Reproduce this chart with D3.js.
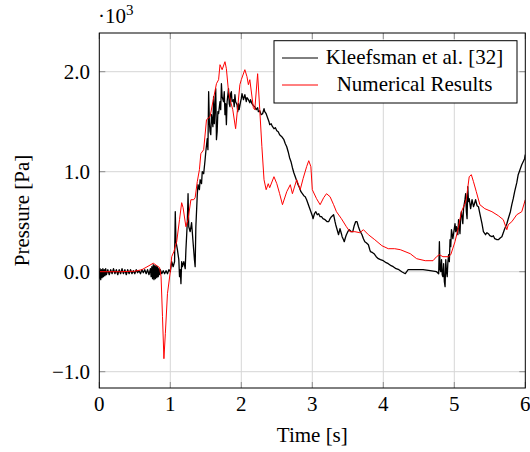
<!DOCTYPE html>
<html>
<head>
<meta charset="utf-8">
<script src="https://cdn.jsdelivr.net/npm/d3@7"></script>
<style>
  html, body { margin: 0; padding: 0; background: #fff; }
  svg { display: block; font-family: "Liberation Serif", "Times New Roman", serif; }
</style>
</head>
<body>
<svg id="chart" width="530" height="452"></svg>
<script>
// Pressure signal, values in units of 10^3 Pa, time in seconds
const xTicks = [0, 1, 2, 3, 4, 5, 6];
const yTicks = [-1, 0, 1, 2];
const seriesNames = ["Kleefsman et al. [32]", "Numerical Results"];
const seriesColors = ["#000000", "#ff0000"];

// Experimental record (Kleefsman et al.)
const kleefsman = [
  [0,-0.07],[0.01,0.03],[0.02,-0.08],[0.03,0.02],[0.04,-0.06],[0.05,0.03],[0.06,-0.05],[0.07,0.02],[0.08,-0.04],[0.09,0.03],
  [0.10,-0.03],[0.12,0.02],[0.14,-0.03],[0.16,0.02],[0.18,-0.02],[0.20,0.03],[0.22,-0.02],[0.24,0.02],[0.26,-0.03],[0.28,0.02],
  [0.30,-0.02],[0.32,0.03],[0.34,-0.02],[0.36,0.02],[0.38,-0.03],[0.40,0.02],[0.42,-0.02],[0.44,0.02],[0.46,-0.02],[0.48,0.01],
  [0.50,-0.02],[0.52,0.02],[0.54,-0.01],[0.56,0.01],[0.58,-0.02],[0.60,0.02],[0.62,-0.01],[0.64,0.02],[0.66,-0.02],[0.68,0.02],
  [0.70,-0.03],[0.72,0.03],[0.73,-0.05],[0.74,0.05],[0.75,-0.07],[0.76,0.07],[0.77,-0.08],[0.78,0.06],[0.79,-0.07],[0.80,0.06],
  [0.81,-0.06],[0.82,0.05],[0.83,-0.05],[0.84,0.03],[0.85,-0.03],[0.86,0.02],[0.88,-0.02],[0.90,0.01],[0.92,-0.02],[0.94,0.01],
  [0.96,-0.02],[0.98,0.02],[1.00,0.0],[1.02,0.1],[1.04,0.05],[1.06,0.1],[1.07,0.6],[1.08,0.3],[1.10,0.22],[1.12,0.12],
  [1.13,-0.05],[1.14,0.02],[1.15,-0.12],[1.16,0.1],[1.17,0.05],[1.19,0.1],[1.21,0.03],[1.22,0.22],[1.24,0.5],[1.25,0.78],
  [1.26,0.45],[1.28,0.4],[1.30,0.49],[1.32,0.3],[1.34,0.12],[1.35,0.05],[1.36,0.45],[1.38,0.77],[1.39,0.87],[1.41,0.82],
  [1.42,0.92],[1.44,0.88],[1.45,1.0],[1.47,0.98],[1.49,1.12],[1.50,1.2],[1.52,1.33],[1.53,1.22],[1.54,1.8],[1.55,1.5],
  [1.56,1.4],[1.57,1.37],[1.58,1.57],[1.60,1.45],[1.61,1.75],[1.62,1.48],[1.64,1.83],[1.65,1.32],[1.66,1.4],[1.67,1.6],
  [1.68,1.58],[1.70,1.7],[1.71,1.62],[1.72,1.88],[1.73,1.75],[1.75,1.7],[1.76,1.8],[1.77,1.57],[1.78,1.68],[1.79,1.47],
  [1.80,1.7],[1.82,1.83],[1.83,1.68],[1.84,1.65],[1.85,1.78],[1.86,1.8],[1.87,1.7],[1.89,1.72],[1.90,1.65],[1.91,1.77],
  [1.92,1.7],[1.94,1.67],[1.95,1.6],[1.96,1.68],[1.97,1.62],[1.99,1.7],[2.00,1.73],[2.01,1.78],[2.03,1.72],[2.05,1.77],
  [2.07,1.7],[2.08,1.74],[2.10,1.72],[2.12,1.69],[2.13,1.72],[2.15,1.68],[2.17,1.66],[2.19,1.65],[2.21,1.62],[2.23,1.64],
  [2.24,1.6],[2.26,1.61],[2.28,1.57],[2.30,1.58],[2.32,1.63],[2.33,1.6],[2.35,1.58],[2.37,1.54],[2.39,1.5],[2.40,1.47],
  [2.42,1.48],[2.44,1.45],[2.46,1.43],[2.48,1.44],[2.50,1.41],[2.52,1.40],[2.54,1.37],[2.57,1.35],[2.60,1.32],[2.62,1.28],
  [2.64,1.25],[2.66,1.20],[2.68,1.14],[2.70,1.10],[2.72,1.04],[2.74,0.99],[2.76,0.95],[2.78,0.91],[2.80,0.87],[2.82,0.84],
  [2.84,0.8],[2.86,0.78],[2.88,0.76],[2.90,0.75],[2.92,0.72],[2.94,0.68],[2.96,0.64],[2.98,0.6],[3.00,0.56],[3.01,0.53],
  [3.03,0.58],[3.05,0.6],[3.07,0.57],[3.09,0.58],[3.11,0.55],[3.13,0.55],[3.15,0.53],[3.18,0.52],[3.21,0.5],[3.23,0.5],
  [3.25,0.53],[3.27,0.55],[3.30,0.57],[3.32,0.5],[3.33,0.47],[3.35,0.42],[3.37,0.37],[3.39,0.43],[3.41,0.38],[3.42,0.35],
  [3.44,0.32],[3.45,0.3],[3.47,0.35],[3.48,0.37],[3.50,0.4],[3.52,0.42],[3.55,0.4],[3.57,0.4],[3.59,0.46],[3.61,0.5],
  [3.63,0.5],[3.65,0.45],[3.67,0.41],[3.70,0.37],[3.72,0.33],[3.74,0.3],[3.76,0.29],[3.79,0.27],[3.81,0.22],[3.82,0.2],
  [3.85,0.19],[3.87,0.18],[3.90,0.15],[3.93,0.13],[3.96,0.12],[4.00,0.11],[4.04,0.09],[4.07,0.08],[4.11,0.06],[4.14,0.05],
  [4.18,0.03],[4.22,0.02],[4.26,0.0],[4.31,-0.02],[4.35,0.02],[4.39,0.02],[4.42,0.02],[4.49,0.02],[4.56,0.02],[4.66,0.01],
  [4.75,0.0],[4.78,-0.02],[4.79,0.3],[4.80,0.02],[4.81,0.0],[4.82,0.12],[4.83,-0.03],[4.84,-0.05],[4.85,0.08],[4.86,-0.1],
  [4.87,-0.15],[4.88,0.12],[4.89,0.0],[4.90,-0.05],[4.91,0.1],[4.92,0.17],[4.93,0.1],[4.94,0.32],[4.95,0.25],[4.96,0.42],
  [4.98,0.33],[4.99,0.38],[5.01,0.48],[5.02,0.4],[5.03,0.45],[5.05,0.37],[5.06,0.52],[5.08,0.38],[5.09,0.55],[5.10,0.6],
  [5.12,0.48],[5.13,0.63],[5.15,0.72],[5.16,0.78],[5.17,0.6],[5.18,0.53],[5.19,0.85],[5.20,0.7],[5.21,0.73],[5.23,0.63],
  [5.25,0.72],[5.27,0.65],[5.28,0.67],[5.30,0.72],[5.32,0.66],[5.34,0.65],[5.36,0.58],[5.39,0.48],[5.41,0.4],[5.44,0.37],
  [5.46,0.39],[5.48,0.38],[5.50,0.36],[5.53,0.35],[5.55,0.36],[5.57,0.33],[5.60,0.32],[5.62,0.32],[5.65,0.34],[5.67,0.35],
  [5.69,0.39],[5.71,0.43],[5.74,0.48],[5.76,0.53],[5.79,0.6],[5.81,0.67],[5.83,0.73],[5.85,0.8],[5.88,0.89],[5.90,0.97],
  [5.93,1.03],[5.95,1.07],[5.97,1.1],[5.99,1.13],[6.0,1.17]
];

// Simulated pressure
const numerical = [
  [0,0],[0.3,0],[0.5,0.005],[0.6,0.02],[0.7,0.06],[0.76,0.085],[0.8,0.065],[0.85,0.04],[0.87,-0.05],[0.89,-0.45],
  [0.91,-0.87],[0.93,-0.62],[0.96,-0.22],[1.0,0.0],[1.02,0.15],[1.05,0.2],[1.09,0.3],[1.13,0.52],[1.16,0.69],[1.18,0.64],
  [1.22,0.45],[1.25,0.52],[1.29,0.72],[1.33,0.72],[1.35,0.74],[1.38,0.9],[1.41,1.02],[1.43,1.18],[1.47,1.22],[1.51,1.52],
  [1.56,1.55],[1.6,1.7],[1.65,1.88],[1.68,1.92],[1.70,2.07],[1.73,2.02],[1.77,2.1],[1.79,2.03],[1.82,1.8],[1.85,1.7],
  [1.88,1.62],[1.92,1.43],[1.95,1.65],[1.98,1.87],[2.0,1.92],[2.05,2.02],[2.08,1.95],[2.10,1.87],[2.12,1.92],[2.17,1.64],
  [2.19,1.62],[2.23,1.98],[2.26,1.62],[2.29,1.25],[2.32,0.92],[2.35,0.82],[2.38,0.88],[2.40,0.84],[2.46,0.95],[2.50,0.88],
  [2.54,0.78],[2.58,0.67],[2.64,0.80],[2.69,0.87],[2.72,0.78],[2.78,0.92],[2.83,0.82],[2.87,0.93],[2.92,1.05],[2.95,1.11],
  [2.98,1.05],[3.0,0.82],[3.06,0.73],[3.11,0.67],[3.16,0.74],[3.2,0.78],[3.25,0.75],[3.30,0.67],[3.34,0.60],[3.41,0.53],
  [3.48,0.45],[3.53,0.40],[3.60,0.40],[3.67,0.39],[3.72,0.42],[3.79,0.37],[3.88,0.32],[3.98,0.26],[4.07,0.23],[4.16,0.23],
  [4.24,0.22],[4.38,0.18],[4.47,0.13],[4.59,0.11],[4.70,0.11],[4.75,0.15],[4.79,0.17],[4.84,0.15],[4.92,0.15],[4.95,0.17],
  [5.01,0.30],[5.06,0.45],[5.10,0.60],[5.15,0.68],[5.17,0.73],[5.21,0.95],[5.24,0.97],[5.27,0.90],[5.31,0.80],[5.36,0.67],
  [5.43,0.63],[5.53,0.60],[5.62,0.56],[5.69,0.52],[5.74,0.42],[5.76,0.47],[5.81,0.50],[5.88,0.57],[5.95,0.60],[6.0,0.72]
];

const svg = d3.select("#chart");
const plotLeft = 99.3, plotRight = 525.3, plotTop = 33, plotBottom = 388;

const x = d3.scaleLinear().domain([0, 6]).range([plotLeft, plotRight]);
const y = d3.scaleLinear().domain([-1.163, 2.387]).range([plotBottom, plotTop]);

// grid
const grid = svg.append("g");
grid.selectAll("line.gx").data(xTicks.filter(d => d > 0 && d < 6)).join("line")
  .attr("x1", d => x(d)).attr("x2", d => x(d)).attr("y1", plotTop).attr("y2", plotBottom)
  .attr("stroke", "#d6d6d6").attr("stroke-width", 1);
grid.selectAll("line.gy").data(yTicks).join("line")
  .attr("x1", plotLeft).attr("x2", plotRight).attr("y1", d => y(d)).attr("y2", d => y(d))
  .attr("stroke", "#d6d6d6").attr("stroke-width", 1);

// inner tick marks on all four sides
const tickLen = 6, tickColor = "#8c8c8c";
const tk = svg.append("g").attr("stroke", tickColor).attr("stroke-width", 1);
xTicks.forEach(d => {
  tk.append("line").attr("x1", x(d)).attr("x2", x(d)).attr("y1", plotBottom).attr("y2", plotBottom - tickLen);
  tk.append("line").attr("x1", x(d)).attr("x2", x(d)).attr("y1", plotTop).attr("y2", plotTop + tickLen);
});
yTicks.forEach(d => {
  tk.append("line").attr("x1", plotLeft).attr("x2", plotLeft + tickLen).attr("y1", y(d)).attr("y2", y(d));
  tk.append("line").attr("x1", plotRight).attr("x2", plotRight - tickLen).attr("y1", y(d)).attr("y2", y(d));
});

// data lines
svg.append("clipPath").attr("id", "plotClip").append("rect")
  .attr("x", plotLeft).attr("y", plotTop).attr("width", plotRight - plotLeft).attr("height", plotBottom - plotTop);
const line = d3.line().x(d => x(d[0])).y(d => y(d[1]));
const plot = svg.append("g").attr("clip-path", "url(#plotClip)");
plot.append("path").datum(kleefsman).attr("d", line)
  .attr("fill", "none").attr("stroke", seriesColors[0]).attr("stroke-width", 1.3).attr("stroke-linejoin", "round");
plot.append("path").datum(numerical).attr("d", line)
  .attr("fill", "none").attr("stroke", seriesColors[1]).attr("stroke-width", 1).attr("stroke-linejoin", "round");

// frame
svg.append("rect").attr("x", plotLeft).attr("y", plotTop).attr("width", plotRight - plotLeft).attr("height", plotBottom - plotTop)
  .attr("fill", "none").attr("stroke", "#000").attr("stroke-width", 1);

// tick labels
const fs = 21;
svg.append("g").selectAll("text").data(xTicks).join("text")
  .attr("x", d => x(d)).attr("y", 411).attr("text-anchor", "middle")
  .attr("font-size", fs).text(d => d3.format("d")(d));
svg.append("g").selectAll("text").data(yTicks).join("text")
  .attr("x", 90).attr("y", d => y(d)).attr("dy", "0.33em").attr("text-anchor", "end")
  .attr("font-size", fs).text(d => d3.format(".1f")(d).replace("-", "\u2212"));

// scale factor
const sf = svg.append("text").attr("x", 98).attr("y", 23).attr("font-size", fs);
sf.append("tspan").text("\u00B710");
sf.append("tspan").attr("font-size", 15).attr("dy", -8).text("3");

// axis titles
svg.append("text").attr("x", (plotLeft + plotRight) / 2).attr("y", 442).attr("text-anchor", "middle")
  .attr("font-size", fs).text("Time [s]");
svg.append("text").attr("transform", `translate(29,${(plotTop + plotBottom) / 2}) rotate(-90)`)
  .attr("text-anchor", "middle").attr("font-size", fs).text("Pressure [Pa]");

// legend
const lg = svg.append("g");
lg.append("rect").attr("x", 274).attr("y", 40.7).attr("width", 243).attr("height", 62.3)
  .attr("fill", "#fff").attr("stroke", "#000").attr("stroke-width", 1);
seriesNames.forEach((name, i) => {
  const ly = 58 + i * 27;
  lg.append("line").attr("x1", 282).attr("x2", 318).attr("y1", ly).attr("y2", ly)
    .attr("stroke", seriesColors[i]).attr("stroke-width", 1);
  lg.append("text").attr("x", 414.5).attr("y", ly).attr("dy", "0.3em").attr("text-anchor", "middle")
    .attr("font-size", fs).text(name);
});
</script>
</body>
</html>
